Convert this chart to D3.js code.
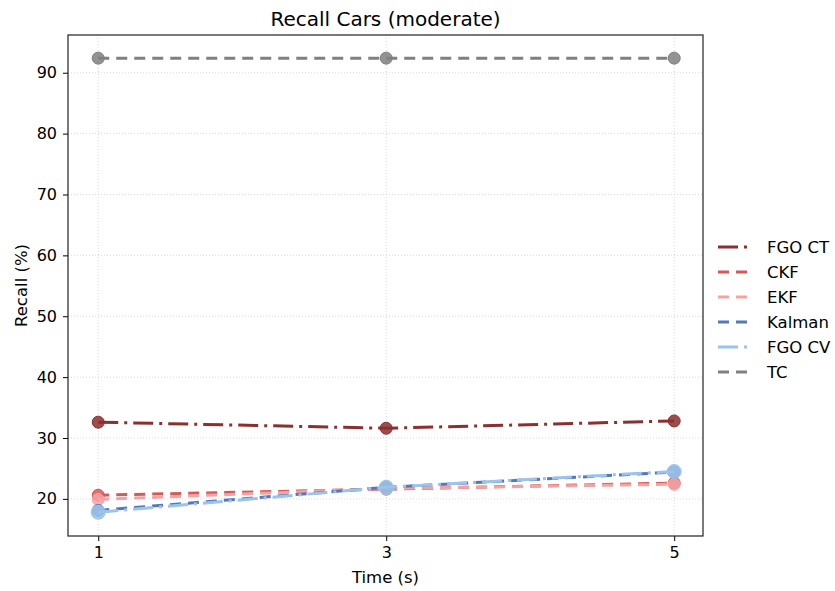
<!DOCTYPE html>
<html>
<head>
<meta charset="utf-8">
<script src="https://cdn.jsdelivr.net/npm/d3@7"></script>
<style>
  body { margin: 0; background: #fff; }
  text { font-family: "DejaVu Sans", sans-serif; }
</style>
</head>
<body>
<div id="graph"></div>
<script>
var times = [1, 3, 5];
var xTicks = [1, 3, 5];
var yTicks = [20, 30, 40, 50, 60, 70, 80, 90];

var seriesNames = ["FGO CT", "CKF", "EKF", "Kalman", "FGO CV", "TC"];
var fgoCt = [32.6, 31.6, 32.8];
var ckf = [20.6, 21.6, 22.6];
var ekf = [19.9, 21.7, 22.4];
var kalman = [18.1, 21.9, 24.4];
var fgoCv = [17.8, 21.9, 24.5];
var tc = [92.4, 92.4, 92.4];

var colors = ["#8b2f2f", "#d95757", "#f4a3a3", "#5577bf", "#9cc3e8", "#808080"];
var dashes = ["20,6,3,6", "11,7", "11,7", "11,7", "20,6,3,6", "11,7"];
var markerR = [6, 6, 6, 6, 7, 6];

var series = [fgoCt, ckf, ekf, kalman, fgoCv, tc];

var margin = {top: 35, right: 132, bottom: 55, left: 68};
var W = 835, H = 591;
var width = W - margin.left - margin.right,
    height = H - margin.top - margin.bottom;

var svg = d3.select("#graph").append("svg")
    .attr("width", W)
    .attr("height", H);

var x = d3.scaleLinear().domain([0.79, 5.2]).range([0, width]);
var y = d3.scaleLinear().domain([13.9, 96.2]).range([height, 0]);

var g = svg.append("g").attr("transform", "translate(" + margin.left + "," + margin.top + ")");

// grid
g.selectAll(".vgrid").data(xTicks).enter().append("line")
    .attr("x1", d => x(d)).attr("x2", d => x(d))
    .attr("y1", 0).attr("y2", height)
    .style("stroke", "#d0d0d0").style("stroke-width", 0.8).style("stroke-dasharray", "1,2");
g.selectAll(".hgrid").data(yTicks).enter().append("line")
    .attr("x1", 0).attr("x2", width)
    .attr("y1", d => y(d)).attr("y2", d => y(d))
    .style("stroke", "#d0d0d0").style("stroke-width", 0.8).style("stroke-dasharray", "1,2");

// lines
var line = d3.line().x((d, i) => x(times[i])).y(d => y(d));

series.forEach(function (s, k) {
    g.append("path")
        .datum(s)
        .attr("d", line)
        .style("fill", "none")
        .style("stroke", colors[k])
        .style("stroke-width", 3)
        .style("stroke-dasharray", dashes[k]);
    g.selectAll(".pt" + k).data(s).enter().append("circle")
        .attr("cx", (d, i) => x(times[i]))
        .attr("cy", d => y(d))
        .attr("r", markerR[k])
        .style("fill", colors[k])
        .style("fill-opacity", 0.85)
        .style("stroke", colors[k]);
});

// axes
var xAxis = g.append("g").attr("transform", "translate(0," + height + ")")
    .call(d3.axisBottom(x).tickValues(xTicks).tickSize(5).tickPadding(6).tickFormat(d3.format("d")));
var yAxis = g.append("g")
    .call(d3.axisLeft(y).tickValues(yTicks).tickSize(5).tickPadding(6));
[xAxis, yAxis].forEach(function (a) {
    a.select(".domain").remove();
    a.selectAll("text").style("font-size", "16px").style("font-family", "DejaVu Sans").style("fill", "#000");
    a.selectAll("line").style("stroke", "#000");
});

g.append("rect")
    .attr("width", width).attr("height", height)
    .style("fill", "none").style("stroke", "#222").style("stroke-width", 1.2);

// labels
svg.append("text")
    .attr("x", margin.left + width / 2).attr("y", 26)
    .attr("text-anchor", "middle")
    .style("font-size", "20px")
    .text("Recall Cars (moderate)");
svg.append("text")
    .attr("x", margin.left + width / 2).attr("y", 583)
    .attr("text-anchor", "middle")
    .style("font-size", "16.5px")
    .text("Time (s)");
svg.append("text")
    .attr("transform", "translate(27," + (margin.top + height / 2) + ") rotate(-90)")
    .attr("text-anchor", "middle")
    .style("font-size", "16.5px")
    .text("Recall (%)");

// legend
var leg = svg.append("g").attr("transform", "translate(718,247)");
seriesNames.forEach(function (name, k) {
    var ly = k * 25;
    leg.append("line")
        .attr("x1", 0).attr("x2", 31).attr("y1", ly).attr("y2", ly)
        .style("stroke", colors[k]).style("stroke-width", 3)
        .style("stroke-dasharray", k == 0 || k == 4 ? "20,6,3,6" : "11,7");
    leg.append("text")
        .attr("x", 49).attr("y", ly + 6)
        .style("font-size", "16.5px")
        .text(name);
});
</script>
</body>
</html>
